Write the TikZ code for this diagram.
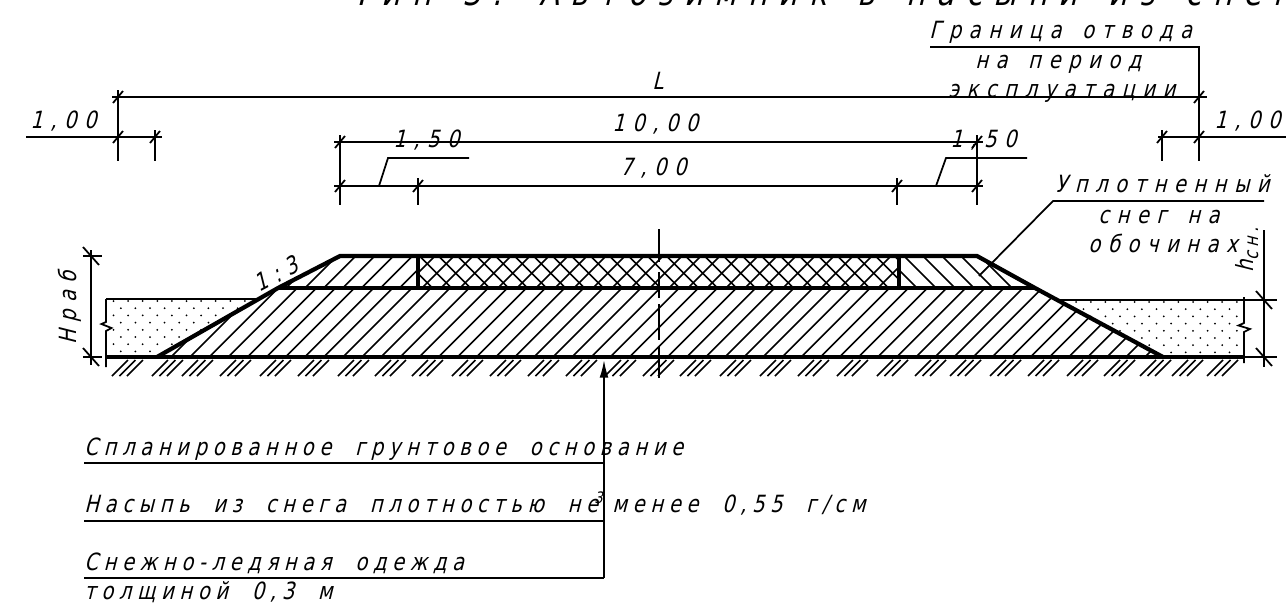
\documentclass[tikz,border=0pt]{standalone}
\usepackage{fontspec}
\usepackage{tikz}
\usetikzlibrary{arrows.meta}
\newfontfamily\gostfont[FakeStretch=0.82,FakeSlant=0.25,LetterSpace=24,WordSpace=2]{DejaVu Sans}
\newfontfamily\gostwide[FakeStretch=0.82,FakeSlant=0.25,LetterSpace=32,WordSpace=1.5]{DejaVu Sans}
\tikzset{
  dimline/.style={line width=1pt},
  hatchline/.style={line width=0.9pt},
  contour/.style={line width=2.4pt},
  lbl/.style={inner sep=0pt,anchor=base west,font=\gostfont\fontsize{13.5}{14}\selectfont},
  lblwide/.style={inner sep=0pt,anchor=base west,font=\gostwide\fontsize{13.5}{14}\selectfont},
}
\begin{document}
\begin{tikzpicture}[x=0.02cm,y=-0.02cm]
  \clip (0,0) rectangle (1286,609);
  % hatching of the layers
  \begin{scope}
    \clip (157,357)--(278,288)--(1035,288)--(1163,357)--cycle;
    \foreach \k in {0,...,53}
      \draw[hatchline] ({151.9+19.1*\k},357)--({151.9+19.1*\k+80},277);
  \end{scope}
  \begin{scope}
    \clip (278,288)--(340,256)--(418,256)--(418,288)--cycle;
    \foreach \k in {0,...,8}
      \draw[hatchline] ({278+18.9*\k},296)--({278+18.9*\k+50},246);
  \end{scope}
  \begin{scope}
    \clip (418,256)--(899,256)--(899,288)--(418,288)--cycle;
    \foreach \k in {-3,...,27} {
      \draw[hatchline] ({416+19*\k},294)--({416+19*\k+44},250);
      \draw[hatchline] ({413.4+19*\k},250)--({413.4+19*\k+44},294);
    }
  \end{scope}
  \begin{scope}
    \clip (899,256)--(977,256)--(1035,288)--(899,288)--cycle;
    \foreach \k in {-2,...,8}
      \draw[hatchline] ({898+19*\k},250)--({898+19*\k+50},300);
  \end{scope}
  % snow fill
  \begin{scope}
    \clip (106,299)--(259,299)--(157,357)--(106,357)--cycle;
    \foreach \i in {0,...,11}
      \foreach \j in {0,...,7}
        \fill ({113.5+14.6*\i+7.3*mod(\j,2)},{301+7.2*\j}) circle (1);
  \end{scope}
  \begin{scope}
    \clip (1057,300)--(1244,300)--(1244,357)--(1163,357)--cycle;
    \foreach \i in {0,...,13}
      \foreach \j in {0,...,7}
        \fill ({1047+14.6*\i+7.3*mod(\j,2)},{302+7.2*\j}) circle (1);
  \end{scope}
  % ground
  \foreach \x in {112,152,182,220,260,298,338,375,412,452,490,528,566,605,643,680,720,760,798,837,877,915,950,990,1028,1067,1104,1140,1172,1207}
    \foreach \d in {0,7.5,15}
      \draw[hatchline] (\x+\d,376)--(\x+\d+16,360);
  % embankment contour
  \draw[contour] (157,357)--(278,288)--(340,256)--(977,256)--(1035,288)--(1163,357);
  \draw[contour] (278,288)--(1035,288);
  \draw[contour] (418,256)--(418,288);
  \draw[contour] (899,256)--(899,288);
  \draw[contour] (106,357)--(1244,357);
  \draw[dimline] (1244,357)--(1277,357);
  \draw[dimline] (106,299)--(259,299);
  \draw[dimline] (1057,300)--(1277,300);
  \draw[dimline] (106,299)--(106,322)--(101.5,324)--(111.5,328)--(106,331)--(106,367);
  \draw[dimline] (1244,297)--(1244,323)--(1238.5,325.5)--(1250,329)--(1244,332)--(1244,363);
  % axis
  \draw[dimline] (659,229)--(659,262);
  \draw[dimline] (659,272)--(659,298);
  \draw[dimline] (659,304)--(659,340);
  \draw[dimline] (659,347)--(659,378);
  % dimension lines
  \draw[dimline] (112,97)--(1207,97);
  \draw[dimline] (26,137)--(162,137);
  \draw[dimline] (1158,137)--(1286,137);
  \draw[dimline] (334,142)--(983,142);
  \draw[dimline] (334,186)--(983,186);
  \draw[dimline] (118,90)--(118,161);
  \draw[dimline] (155,130)--(155,161);
  \draw[dimline] (1162,130)--(1162,161);
  \draw[dimline] (340,135)--(340,205);
  \draw[dimline] (418,178)--(418,205);
  \draw[dimline] (897,178)--(897,205);
  \draw[dimline] (977,135)--(977,205);
  \draw[dimline] (83,256)--(102,256);
  \draw[dimline] (91,250)--(91,365);
  \draw[dimline] (83,357)--(102,357);
  \draw[dimline] (1264,230)--(1264,367);
  \foreach \x/\y in {118/97,1199/97,118/137,155/137,1162/137,1199/137,340/142,977/142,340/186,418/186,897/186,977/186}
    \draw[dimline] (\x-5,\y+6)--(\x+5,\y-6);
  \foreach \x/\y in {91/256,91/357,1264/300,1264/357}
    \draw[dimline] (\x-8,\y-9)--(\x+8,\y+9);
  % leaders
  \coordinate (B1) at (930,47);
  \coordinate (B2) at (1199,47);
  \coordinate (B3) at (1199,161);
  \draw[dimline] (B1)--(B2)--(B3);
  \draw[dimline] (379,186)--(388,158)--(469,158);
  \draw[dimline] (936,186)--(946,158)--(1027,158);
  \coordinate (S1) at (1264,201);
  \coordinate (S2) at (1053,201);
  \coordinate (S3) at (979,276);
  \draw[dimline] (S1)--(S2)--(S3);
  \coordinate (A0) at (604,360);
  \coordinate (A1) at (604,463);
  \coordinate (A2) at (604,521);
  \coordinate (A3) at (604,578);
  \draw[dimline,-{Latex[length=10pt,width=5pt]}] (A3)--(A0);
  \draw[dimline] (84,463)--(A1);
  \draw[dimline] (84,521)--(A2);
  \draw[dimline] (84,578)--(A3);
  % labels
  \node[lblwide,font=\gostwide\fontsize{20.3}{21}\selectfont] (T0) at (352,5) {Тип 3. Автозимник в насыпи из снега};
  \node[lblwide] (T1) at (929,38) {Граница отвода};
  \node[lblwide] (T2) at (975,68) {на период};
  \node[lblwide] (T3) at (948,97) {эксплуатации};
  \node[lblwide] (T4) at (652,89) {L};
  \node[lblwide] (T5) at (612,131) {10,00};
  \node[lblwide] (T6) at (620,175) {7,00};
  \node[lblwide] (T7) at (30,128) {1,00};
  \node[lblwide] (T8) at (1214,128) {1,00};
  \node[lblwide] (T9) at (393,147) {1,50};
  \node[lblwide] (T10) at (950,147) {1,50};
  \node[lblwide] (T11) at (1055,192) {Уплотненный};
  \node[lblwide] (T12) at (1098,223) {снег на};
  \node[lblwide] (T13) at (1088,252) {обочинах};
  \node[lbl,anchor=center,rotate=90] (T14) at (1247,250) {h\raisebox{-3pt}{\fontsize{11}{11}\selectfont сн.}};
  \node[lblwide,anchor=center,rotate=90] (T15) at (70,308) {Нраб};
  \node[lblwide,anchor=center,rotate=28] (T16) at (276,274) {1:3};
  \node[lbl] (T17) at (84,455) {Спланированное грунтовое основание};
  \node[lbl] (T18) at (84,512) {Насыпь из снега плотностью не};
  \node[lbl,font=\gostfont\fontsize{9}{9}\selectfont] (T19) at (594,503) {3};
  \node[lbl] (T20) at (612,512) {менее 0,55 г/см};
  \node[lbl] (T21) at (84,570) {Снежно-ледяная одежда};
  \node[lbl] (T22) at (84,599) {толщиной 0,3 м};
\end{tikzpicture}
\end{document}
